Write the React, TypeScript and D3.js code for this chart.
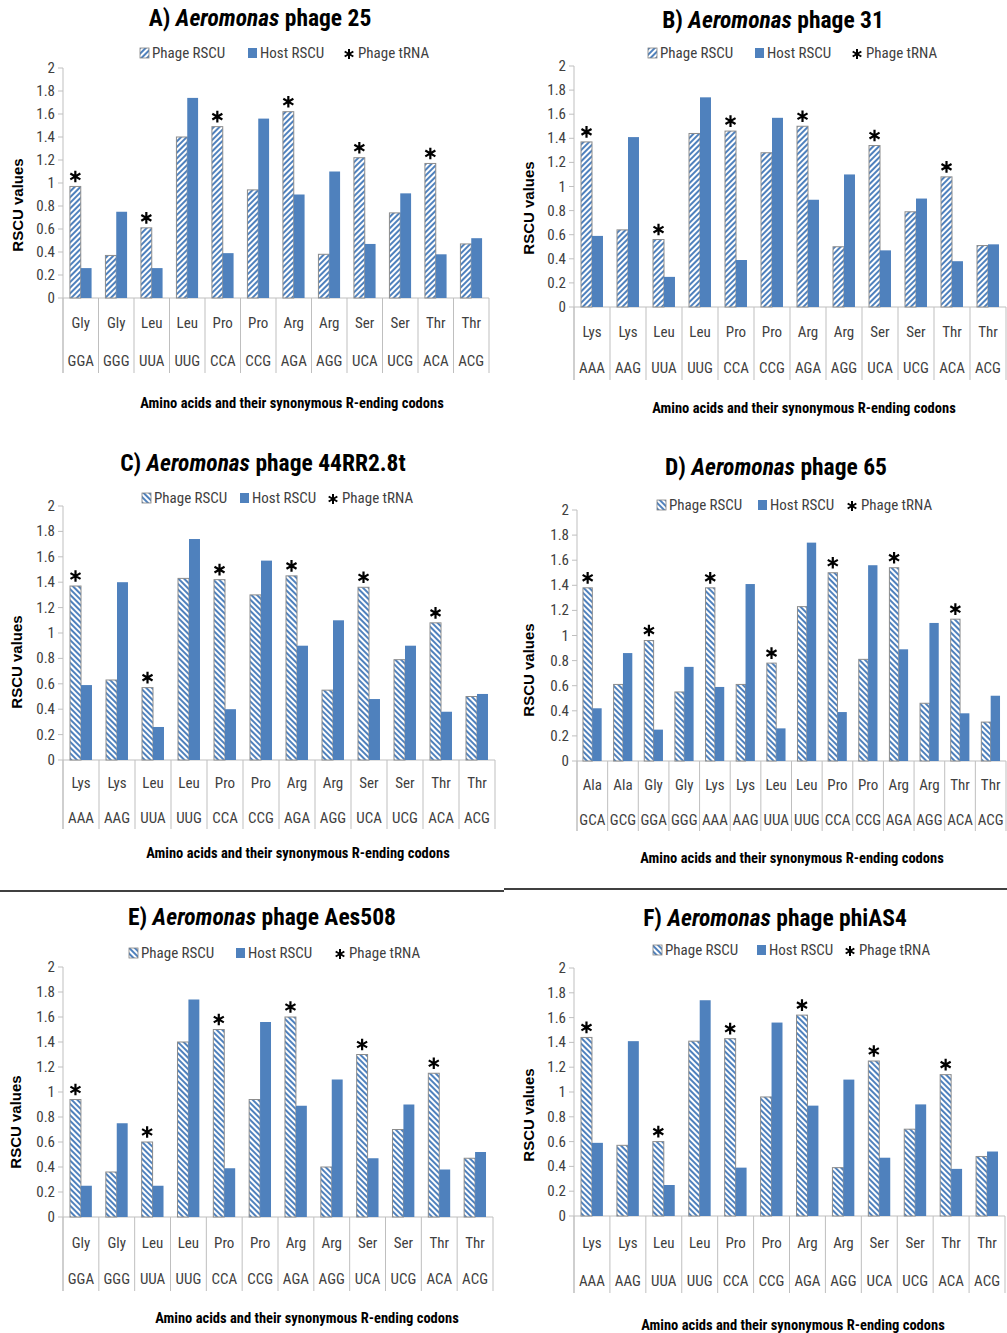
import React from "react";
import * as d3 from "d3";

// ---------- DATA ----------
const aminoGly = ["Gly", "Gly", "Leu", "Leu", "Pro", "Pro", "Arg", "Arg", "Ser", "Ser", "Thr", "Thr"];
const codonGly = ["GGA", "GGG", "UUA", "UUG", "CCA", "CCG", "AGA", "AGG", "UCA", "UCG", "ACA", "ACG"];
const aminoLys = ["Lys", "Lys", "Leu", "Leu", "Pro", "Pro", "Arg", "Arg", "Ser", "Ser", "Thr", "Thr"];
const codonLys = ["AAA", "AAG", "UUA", "UUG", "CCA", "CCG", "AGA", "AGG", "UCA", "UCG", "ACA", "ACG"];
const aminoD = ["Ala", "Ala", "Gly", "Gly", "Lys", "Lys", "Leu", "Leu", "Pro", "Pro", "Arg", "Arg", "Thr", "Thr"];
const codonD = ["GCA", "GCG", "GGA", "GGG", "AAA", "AAG", "UUA", "UUG", "CCA", "CCG", "AGA", "AGG", "ACA", "ACG"];

const phageA = [0.97, 0.37, 0.61, 1.4, 1.49, 0.94, 1.62, 0.38, 1.22, 0.74, 1.17, 0.47];
const hostA = [0.26, 0.75, 0.26, 1.74, 0.39, 1.56, 0.9, 1.1, 0.47, 0.91, 0.38, 0.52];
const trnaA = [true, false, true, false, true, false, true, false, true, false, true, false];

const phageB = [1.37, 0.64, 0.56, 1.44, 1.46, 1.28, 1.5, 0.5, 1.34, 0.79, 1.08, 0.51];
const hostB = [0.59, 1.41, 0.25, 1.74, 0.39, 1.57, 0.89, 1.1, 0.47, 0.9, 0.38, 0.52];
const trnaB = [true, false, true, false, true, false, true, false, true, false, true, false];

const phageC = [1.37, 0.63, 0.57, 1.43, 1.42, 1.3, 1.45, 0.55, 1.36, 0.79, 1.08, 0.5];
const hostC = [0.59, 1.4, 0.26, 1.74, 0.4, 1.57, 0.9, 1.1, 0.48, 0.9, 0.38, 0.52];
const trnaC = [true, false, true, false, true, false, true, false, true, false, true, false];

const phageD = [1.38, 0.61, 0.96, 0.55, 1.38, 0.61, 0.78, 1.23, 1.5, 0.81, 1.54, 0.46, 1.13, 0.31];
const hostD = [0.42, 0.86, 0.25, 0.75, 0.59, 1.41, 0.26, 1.74, 0.39, 1.56, 0.89, 1.1, 0.38, 0.52];
const trnaD = [true, false, true, false, true, false, true, false, true, false, true, false, true, false];

const phageE = [0.94, 0.36, 0.6, 1.4, 1.5, 0.94, 1.6, 0.4, 1.3, 0.7, 1.15, 0.47];
const hostE = [0.25, 0.75, 0.25, 1.74, 0.39, 1.56, 0.89, 1.1, 0.47, 0.9, 0.38, 0.52];
const trnaE = [true, false, true, false, true, false, true, false, true, false, true, false];

const phageF = [1.44, 0.57, 0.6, 1.41, 1.43, 0.96, 1.62, 0.39, 1.25, 0.7, 1.14, 0.48];
const hostF = [0.59, 1.41, 0.25, 1.74, 0.39, 1.56, 0.89, 1.1, 0.47, 0.9, 0.38, 0.52];
const trnaF = [true, false, true, false, true, false, true, false, true, false, true, false];

const yTicks = [0, 0.2, 0.4, 0.6, 0.8, 1, 1.2, 1.4, 1.6, 1.8, 2];
const legendLabels = ["Phage RSCU", "Host RSCU", "Phage tRNA"];
const xTitle = "Amino acids and their synonymous R-ending codons";
const yTitle = "RSCU values";

// ---------- LAYOUT ----------
const layouts = {
  A: { axisX: 63, y0: 298, y2: 68, right: 489, catBottom: 373, aminoY: 323, codonY: 361, xTitleY: 403, xTitleX: 292, titleX: 260, titleY: 18, legendY: 53, legPhage: 140, legHost: 248, legStar: 349, yLabelX: 17, yLabelY: 205, hatch: "up" },
  B: { axisX: 574, y0: 307, y2: 66, right: 1006, catBottom: 380, aminoY: 332, codonY: 368, xTitleY: 408, xTitleX: 804, titleX: 773, titleY: 20, legendY: 53, legPhage: 648, legHost: 755, legStar: 857, yLabelX: 528, yLabelY: 208, hatch: "up" },
  C: { axisX: 63, y0: 760, y2: 506, right: 495, catBottom: 829, aminoY: 783, codonY: 818, xTitleY: 853, xTitleX: 298, titleX: 263, titleY: 463, legendY: 498, legPhage: 142, legHost: 240, legStar: 333, yLabelX: 16, yLabelY: 662, hatch: "down" },
  D: { axisX: 577, y0: 761, y2: 510, right: 1006, catBottom: 831, aminoY: 785, codonY: 820, xTitleY: 858, xTitleX: 792, titleX: 776, titleY: 467, legendY: 505, legPhage: 657, legHost: 758, legStar: 852, yLabelX: 528, yLabelY: 670, hatch: "down" },
  E: { axisX: 63, y0: 1217, y2: 967, right: 493, catBottom: 1291, aminoY: 1243, codonY: 1279, xTitleY: 1318, xTitleX: 307, titleX: 262, titleY: 917, legendY: 953, legPhage: 129, legHost: 236, legStar: 340, yLabelX: 15, yLabelY: 1122, hatch: "down" },
  F: { axisX: 574, y0: 1216, y2: 968, right: 1005, catBottom: 1293, aminoY: 1243, codonY: 1281, xTitleY: 1325, xTitleX: 793, titleX: 775, titleY: 918, legendY: 950, legPhage: 653, legHost: 757, legStar: 850, yLabelX: 528, yLabelY: 1115, hatch: "down" },
};

const panels = [
  { key: "A", label: "A)", name: "phage 25", amino: aminoGly, codon: codonGly, phage: phageA, host: hostA, trna: trnaA },
  { key: "B", label: "B)", name: "phage 31", amino: aminoLys, codon: codonLys, phage: phageB, host: hostB, trna: trnaB },
  { key: "C", label: "C)", name: "phage 44RR2.8t", amino: aminoLys, codon: codonLys, phage: phageC, host: hostC, trna: trnaC },
  { key: "D", label: "D)", name: "phage 65", amino: aminoD, codon: codonD, phage: phageD, host: hostD, trna: trnaD },
  { key: "E", label: "E)", name: "phage Aes508", amino: aminoGly, codon: codonGly, phage: phageE, host: hostE, trna: trnaE },
  { key: "F", label: "F)", name: "phage phiAS4", amino: aminoLys, codon: codonLys, phage: phageF, host: hostF, trna: trnaF },
];

const BLUE = "#4F81BD";
const GRID = "#BFBFBF";
const NARROW = "'Liberation Sans Narrow', 'Roboto Condensed', 'Open Sans', sans-serif";
const BOLDF = "'Liberation Sans', Arial, sans-serif";
const starPath = d3.symbol(d3.symbolAsterisk, 95)() as string;
const starSmall = d3.symbol(d3.symbolAsterisk, 70)() as string;

function Panel({ p }) {
  const L = layouts[p.key];
  const y = d3.scaleLinear().domain([0, 2]).range([L.y0, L.y2]);
  const x = d3.scaleBand().domain(p.codon.map((c, i) => String(i))).range([L.axisX, L.right]).padding(0);
  const bw = x.bandwidth() * 0.305;
  const pat = L.hatch === "up" ? "hatchUp" : "hatchDown";
  const boundaries = d3.range(p.codon.length + 1).map((i) => L.axisX + i * x.bandwidth());
  return (
    <g>
      {/* title */}
      <text x={L.titleX} y={L.titleY} textAnchor="middle" dominantBaseline="central" fontFamily={NARROW} fontWeight="bold" fontSize={23.5} fill="#000">
        <tspan>{p.label} </tspan>
        <tspan fontStyle="italic">Aeromonas</tspan>
        <tspan> {p.name}</tspan>
      </text>
      {/* legend */}
      <g fontFamily={NARROW} fontSize={15} fill="#404040">
        <rect x={L.legPhage} y={L.legendY - 5} width={9} height={10} fill={`url(#${pat})`} stroke="#808080" strokeWidth={0.8} />
        <text x={L.legPhage + 12} y={L.legendY} dominantBaseline="central">{legendLabels[0]}</text>
        <rect x={L.legHost} y={L.legendY - 5} width={9} height={10} fill={BLUE} />
        <text x={L.legHost + 12} y={L.legendY} dominantBaseline="central">{legendLabels[1]}</text>
        <path d={starSmall} transform={`translate(${L.legStar},${L.legendY + 1})`} fill="none" stroke="#000" strokeWidth={2} />
        <text x={L.legStar + 9} y={L.legendY} dominantBaseline="central">{legendLabels[2]}</text>
      </g>
      {/* y axis */}
      <line x1={L.axisX} x2={L.axisX} y1={L.y2} y2={L.catBottom} stroke={GRID} />
      {yTicks.map((t) => (
        <g key={t}>
          <line x1={L.axisX - 5} x2={L.axisX} y1={y(t)} y2={y(t)} stroke={GRID} />
          <text x={L.axisX - 8} y={y(t)} textAnchor="end" dominantBaseline="central" fontFamily={NARROW} fontSize={15} fill="#404040">{t}</text>
        </g>
      ))}
      {/* category separators */}
      <line x1={L.axisX} x2={L.right} y1={L.y0} y2={L.y0} stroke={GRID} />
      {boundaries.map((bx, i) => (
        <line key={i} x1={bx} x2={bx} y1={L.y0} y2={L.catBottom} stroke={GRID} />
      ))}
      {/* bars */}
      {p.codon.map((c, i) => {
        const cx = (x(String(i)) as number) + x.bandwidth() / 2;
        return (
          <g key={c + i}>
            <rect x={cx - bw} y={y(p.phage[i])} width={bw} height={L.y0 - y(p.phage[i])} fill={`url(#${pat})`} stroke="#8c8c8c" strokeWidth={1} />
            <rect x={cx} y={y(p.host[i])} width={bw} height={L.y0 - y(p.host[i])} fill={BLUE} />
            {p.trna[i] && (
              <path d={starPath} transform={`translate(${cx - bw / 2},${y(p.phage[i]) - 10})`} fill="none" stroke="#000" strokeWidth={2.2} />
            )}
            <text x={cx} y={L.aminoY} textAnchor="middle" dominantBaseline="central" fontFamily={NARROW} fontSize={15} fill="#404040">{p.amino[i]}</text>
            <text x={cx} y={L.codonY} textAnchor="middle" dominantBaseline="central" fontFamily={NARROW} fontSize={15} fill="#404040">{c}</text>
          </g>
        );
      })}
      {/* axis titles */}
      <text x={L.xTitleX} y={L.xTitleY} textAnchor="middle" dominantBaseline="central" fontFamily={NARROW} fontWeight="bold" fontSize={14.5} fill="#000">{xTitle}</text>
      <text transform={`translate(${L.yLabelX},${L.yLabelY}) rotate(-90)`} textAnchor="middle" dominantBaseline="central" fontFamily={BOLDF} fontWeight="bold" fontSize={15} fill="#000">{yTitle}</text>
    </g>
  );
}

export default function App() {
  return (
    <svg width={1007} height={1333} style={{ position: "absolute", left: 0, top: 0, background: "#fff" }}>
      <defs>
        <pattern id="hatchUp" patternUnits="userSpaceOnUse" width={4} height={4} patternTransform="rotate(45)">
          <rect width={4} height={4} fill="#fff" />
          <rect x={0} y={0} width={2} height={4} fill={BLUE} />
        </pattern>
        <pattern id="hatchDown" patternUnits="userSpaceOnUse" width={4} height={4} patternTransform="rotate(-45)">
          <rect width={4} height={4} fill="#fff" />
          <rect x={0} y={0} width={2} height={4} fill={BLUE} />
        </pattern>
      </defs>
      <rect width={1007} height={1333} fill="#fff" />
      {panels.map((p) => (
        <Panel key={p.key} p={p} />
      ))}
      <line x1={0} x2={504} y1={891} y2={891} stroke="#000" strokeWidth={1.5} />
      <line x1={504} x2={1007} y1={889} y2={889} stroke="#000" strokeWidth={1.5} />
    </svg>
  );
}
